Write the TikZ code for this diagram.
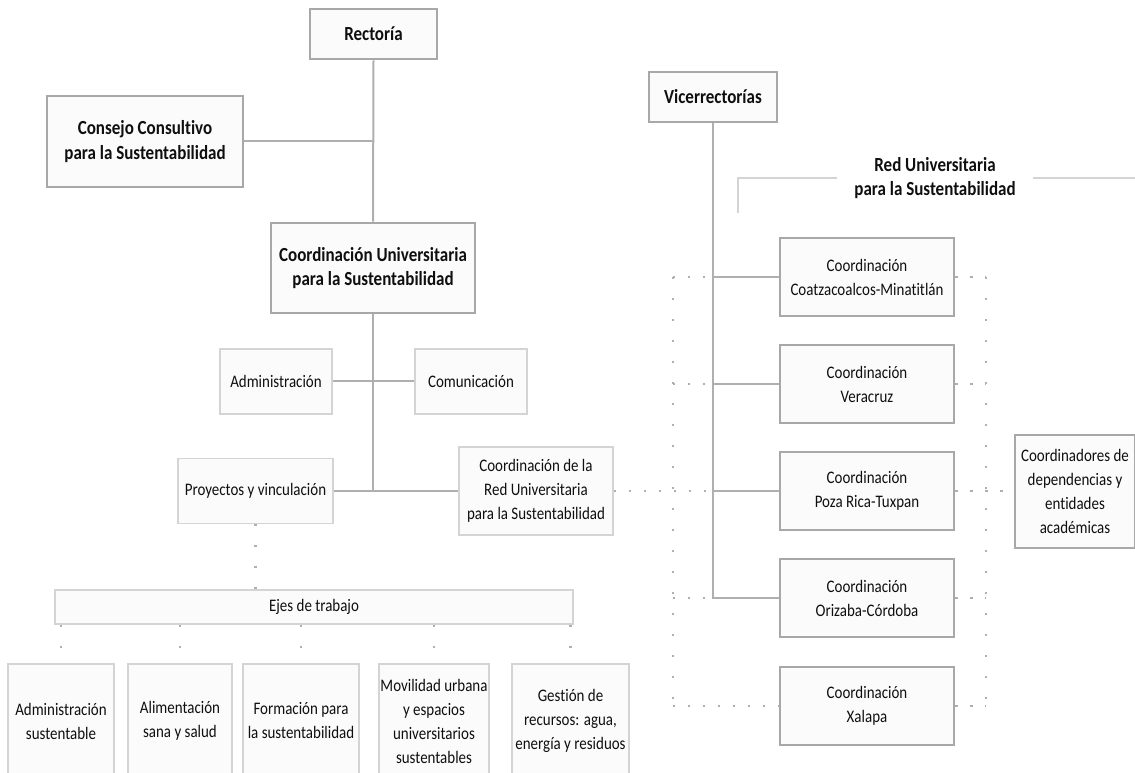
\documentclass[tikz,border=0pt]{standalone}
\usepackage{fontspec}
\setmainfont[FakeStretch=0.85,Ligatures=NoCommon]{Carlito}
\usepackage{xcolor}
\definecolor{boxgray}{RGB}{168,168,168}
\definecolor{thingray}{RGB}{212,212,212}
\definecolor{boxfill}{RGB}{251,251,251}
\definecolor{linegray}{RGB}{175,175,175}
\definecolor{dotgray}{RGB}{175,175,175}
\definecolor{txt}{RGB}{15,15,15}

\begin{document}
\begin{tikzpicture}[x=0.75pt,y=0.75pt,yscale=-1,xscale=1,
  mainbox/.style={draw=boxgray,line width=1.9pt,fill=boxfill,align=center,inner sep=0pt,text=txt,font=\bfseries\fontsize{15}{18.5}\selectfont},
  coordbox/.style={draw=boxgray,line width=1.9pt,fill=boxfill,align=center,inner sep=0pt,text=txt,font=\fontsize{13.2}{18}\selectfont},
  subbox/.style={draw=thingray,line width=0.8pt,fill=boxfill,align=center,inner sep=0pt,text=txt,font=\fontsize{13.2}{18}\selectfont},
  conn/.style={draw=linegray,line width=1.5pt},
  hdots/.style={draw=dotgray,line width=1.8pt,dash pattern=on 1.8pt off 9.45pt},
  vdots/.style={draw=dotgray,line width=1.8pt,dash pattern=on 1.8pt off 13.95pt},
  bracket/.style={draw=thingray,line width=0.8pt}]
%set diagram left start at 0, and has height of 773
\useasboundingbox (0,0) rectangle (1135,773);
\clip (0,0) rectangle (1135,773);
%Shape: Rectangle [Rectoria]
\node [mainbox,minimum width=95.25pt,minimum height=37.5pt] (rect) at (373.5,34) {Rectoría};
%Shape: Rectangle [Consejo]
\node [mainbox,minimum width=147pt,minimum height=68.25pt] (consejo) at (145,141.5) {Consejo Consultivo\\para la Sustentabilidad};
%Shape: Rectangle [Coordinacion Universitaria]
\node [mainbox,minimum width=153pt,minimum height=67.5pt] (cus) at (373,268) {Coordinación Universitaria\\para la Sustentabilidad};
%Shape: Rectangle [Administracion]
\node [subbox,minimum width=84pt,minimum height=48.75pt] (admin) at (276,381.5) {Administración};
%Shape: Rectangle [Comunicacion]
\node [subbox,minimum width=84pt,minimum height=48.75pt] (comun) at (471,381.5) {Comunicación};
%Shape: Rectangle [Proyectos]
\node [subbox,minimum width=116.25pt,minimum height=48.75pt] (proy) at (255.5,491) {Proyectos y vinculación};
%Shape: Rectangle [Coordinacion de la Red]
\node [subbox,minimum width=115.5pt,minimum height=66pt] (redcoord) at (536,491) {Coordinación de la\\Red Universitaria\\para la Sustentabilidad};
%Shape: Rectangle [Ejes]
\node [subbox,minimum width=388.5pt,minimum height=25.5pt] (ejes) at (314,607) {Ejes de trabajo};
%Shape: Rectangle [ejes de trabajo, abajo]
\node [subbox,minimum width=79.5pt,minimum height=85.5pt] (eje1) at (61,721) {Administración\\sustentable};
\node [subbox,minimum width=78pt,minimum height=85.5pt] (eje2) at (180,721) {Alimentación\\sana y salud};
\node [subbox,minimum width=87pt,minimum height=85.5pt] (eje3) at (301,721) {Formación para\\la sustentabilidad};
\node [subbox,minimum width=82.5pt,minimum height=85.5pt] (eje4) at (434,721) {Movilidad urbana\\y espacios\\universitarios\\sustentables};
\node [subbox,minimum width=87.75pt,minimum height=85.5pt] (eje5) at (570.5,721) {Gestión de\\recursos: agua,\\energía y residuos};
%Shape: Rectangle [Vicerrectorias]
\node [mainbox,minimum width=96pt,minimum height=37.5pt] (vice) at (713,97) {Vicerrectorías};
% Text Node
\node [align=center,text=txt,font=\bfseries\fontsize{15}{18.5}\selectfont,minimum width=147pt,inner sep=0pt] (redlbl) at (935,178) {Red Universitaria\\para la Sustentabilidad};
%Shape: Rectangle [regiones]
\node [coordbox,minimum width=130.5pt,minimum height=58.5pt] (coat) at (867,277) {Coordinación\\Coatzacoalcos-Minatitlán};
\node [coordbox,minimum width=130.5pt,minimum height=58.5pt] (vera) at (867,384) {Coordinación\\Veracruz};
\node [coordbox,minimum width=130.5pt,minimum height=58.5pt] (poza) at (867,491) {Coordinación\\Poza Rica-Tuxpan};
\node [coordbox,minimum width=130.5pt,minimum height=58.5pt] (oriz) at (867,598) {Coordinación\\Orizaba-Córdoba};
\node [coordbox,minimum width=130.5pt,minimum height=58.5pt] (xal) at (867,706) {Coordinación\\Xalapa};
%Shape: Rectangle [Coordinadores]
\node [coordbox,minimum width=90pt,minimum height=84.75pt] (coordres) at (1075,491.5) {Coordinadores de\\dependencias y\\entidades\\académicas};
%free ends
\coordinate (lcol) at (673,0);
\coordinate (rcol) at (986,0);
\coordinate (brk) at (738,213);
\coordinate (brkend) at (1135,177);
%Straight Lines [bracket de la red]
\draw [bracket] (brk) |- (redlbl.west);
\draw [bracket] (redlbl.east) -- (redlbl.east -| brkend);
%Dotted Lines
\draw [vdots] (lcol |- coat.west) -- (lcol |- xal.west);
\draw [vdots] (rcol |- coat.east) -- (rcol |- xal.east);
\draw [hdots] (lcol |- coat.west) -- (vice.south |- coat.west);
\draw [hdots] (lcol |- vera.west) -- (vice.south |- vera.west);
\draw [hdots] (redcoord.east) -- (vice.south |- poza.west);
\draw [hdots] (lcol |- oriz.west) -- (vice.south |- oriz.west);
\draw [hdots] (lcol |- xal.west) -- (xal.west);
\draw [hdots] (coat.east) -- (rcol |- coat.east);
\draw [hdots] (vera.east) -- (rcol |- vera.east);
\draw [hdots] (poza.east) -- (coordres.west |- poza.east);
\draw [hdots] (oriz.east) -- (rcol |- oriz.east);
\draw [hdots] (xal.east) -- (rcol |- xal.east);
\draw [vdots] (proy.south) -- (proy.south |- ejes.north);
\foreach \e in {eje1,eje2,eje3,eje4,eje5}
  \draw [vdots] (\e.north |- ejes.south) -- (\e.north);
%Straight Lines
\draw [conn] (rect.south) -- (cus.north);
\draw [conn] (consejo.east) -- (consejo.east -| rect.south);
\draw [conn] (cus.south) -- (cus.south |- proy.east);
\draw [conn] (admin.east) -- (comun.west);
\draw [conn] (proy.east) -- (redcoord.west);
\draw [conn] (vice.south) -- (vice.south |- oriz.west) -- (oriz.west);
\foreach \c in {coat,vera,poza}
  \draw [conn] (vice.south |- \c.west) -- (\c.west);
\end{tikzpicture}
\end{document}
